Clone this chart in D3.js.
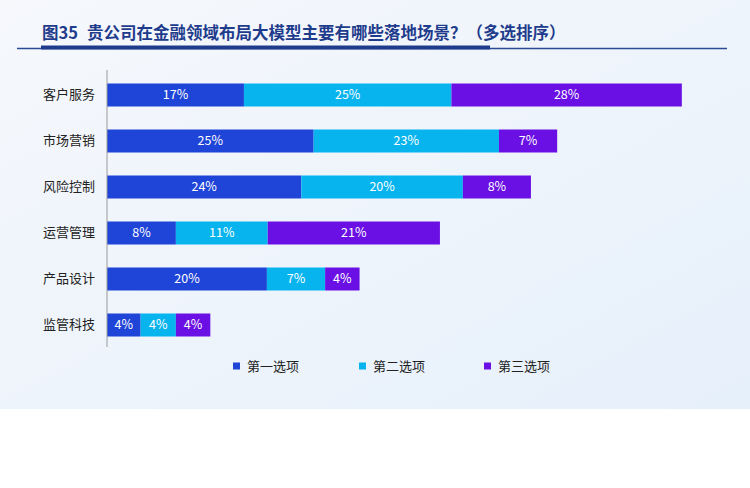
<!DOCTYPE html>
<html><head><meta charset="utf-8">
<script src="https://cdn.jsdelivr.net/npm/d3@7/dist/d3.min.js"></script>
<style>html,body{margin:0;padding:0;background:#fff;}svg{display:block;}</style>
</head><body><svg id="c" width="750" height="488"></svg>
<script>
const categories = ["客户服务","市场营销","风险控制","运营管理","产品设计","监管科技"];
const seriesNames = ["第一选项","第二选项","第三选项"];
const first = [16.7,25.2,23.7,8.4,19.5,4.1];
const second = [25.3,22.6,19.7,11.2,7.1,4.3];
const third = [28.1,7.1,8.3,21.0,4.2,4.2];
const colors = ["#1f45d8","#08b4ee","#6a10e4"];
const titleNum = "图35";
const titleText = "贵公司在金融领域布局大模型主要有哪些落地场景？（多选排序）";

const svg = d3.select("#c");
const font = "'Noto Sans CJK SC','Noto Sans',sans-serif";
const defs = svg.append("defs");
const g1 = defs.append("linearGradient").attr("id","bg").attr("x1","0").attr("y1","0").attr("x2","1").attr("y2","1");
g1.append("stop").attr("offset","0").attr("stop-color","#f6f8fc");
g1.append("stop").attr("offset","0.5").attr("stop-color","#eef4fb");
g1.append("stop").attr("offset","1").attr("stop-color","#e6f0fb");
svg.append("rect").attr("x",0).attr("y",0).attr("width",750).attr("height",409).attr("fill","url(#bg)");

// title
const t = svg.append("text").attr("x",42).attr("y",39).attr("font-family",font).attr("font-weight","bold")
  .attr("font-size",16.5).attr("fill","#1f3c8c");
t.append("tspan").text(titleNum);
t.append("tspan").attr("dx",9).text(titleText);
svg.append("line").attr("x1",17).attr("x2",727).attr("y1",48.5).attr("y2",48.5).attr("stroke","#2a4a94").attr("stroke-width",1.5);
svg.append("line").attr("x1",41).attr("x2",490).attr("y1",47.5).attr("y2",47.5).attr("stroke","#1f3c8c").attr("stroke-width",4);

const data = categories.map((c,i)=>({cat:c, v:[first[i],second[i],third[i]]}));
const x = d3.scaleLinear().domain([0,70]).range([107,681]);
const y = d3.scaleBand().domain(categories).range([72,348]).paddingInner(0.5).paddingOuter(0.25);

const stack = d3.stack().keys([0,1,2]).value((d,k)=>d.v[k]);
const layers = stack(data);

const gL = svg.append("g");
layers.forEach((layer,k)=>{
  const g = gL.append("g");
  g.selectAll("rect").data(layer).join("rect")
    .attr("x",d=>x(d[0])).attr("width",d=>x(d[1])-x(d[0]))
    .attr("y",d=>y(d.data.cat)).attr("height",y.bandwidth())
    .attr("fill",colors[k]);
  g.selectAll("text").data(layer).join("text")
    .attr("x",d=>(x(d[0])+x(d[1]))/2).attr("y",d=>y(d.data.cat)+y.bandwidth()/2)
    .attr("dy","0.35em").attr("text-anchor","middle").attr("font-family",font)
    .attr("font-size",12.5).attr("fill","#fff").text(d=>Math.round(d.data.v[k])+"%");
});

// y axis
const yAxis = d3.axisLeft(y).tickSize(0).tickPadding(12);
const ga = svg.append("g").attr("transform","translate(107,0)").call(yAxis);
ga.select(".domain").attr("stroke","#9a9a9a").attr("d","M0,70V347");
ga.selectAll("text").attr("font-family",font).attr("font-size",13).attr("fill","#222");

// legend
const lx = [233,359,484];
seriesNames.forEach((n,i)=>{
  svg.append("rect").attr("x",lx[i]).attr("y",362.5).attr("width",7).attr("height",7).attr("fill",colors[i]);
  svg.append("text").attr("x",lx[i]+14).attr("y",366).attr("dy","0.35em").attr("font-family",font)
    .attr("font-size",13).attr("fill","#222").text(n);
});
</script></body></html>
